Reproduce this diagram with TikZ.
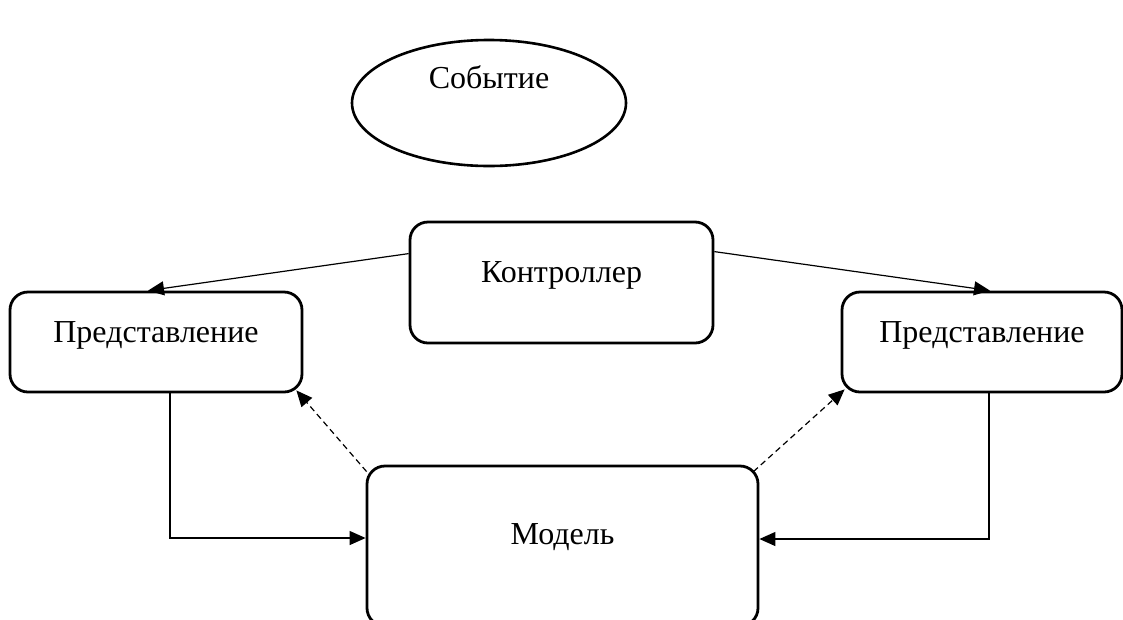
\documentclass[tikz,border=0pt]{standalone}
\usepackage{fontspec}
\setmainfont{Liberation Serif}
\usetikzlibrary{arrows.meta,graphs,shapes.geometric,calc}

\tikzset{
  box/.style={draw, line width=2.8pt, rounded corners=18pt, text height=18pt, text depth=18pt, inner sep=0pt},
  arr/.style={line width=1.2pt, -{Triangle[length=16pt,width=14pt]}},
  dsh/.style={arr, dash pattern=on 6pt off 4pt},
}

\begin{document}
\begin{tikzpicture}[x=1pt, y=-1pt, font=\fontsize{32}{38}\selectfont]
  \useasboundingbox (0,0) rectangle (1123,619);
  \node[draw, ellipse, line width=2.6pt, minimum width=274pt, minimum height=126pt,
        text height=10pt, text depth=40pt, inner sep=0pt] (ev) at (489,103) {Событие};
  \node[box, minimum width=303pt, minimum height=121pt] (ctrl) at (561.5,282.5) {Контроллер};
  \node[box, minimum width=292pt, minimum height=100pt] (viewL) at (156,342) {Представление};
  \node[box, minimum width=280pt, minimum height=100pt] (viewR) at (982,342) {Представление};
  \node[box, minimum width=391pt, minimum height=160pt, text height=16pt, text depth=20pt] (model) at (562.5,546) {Модель};
  % end points
  \coordinate (cl) at ($(ctrl.north west)+(0,33)$);
  \coordinate (cr) at ($(ctrl.north east)+(0,31)$);
  \coordinate (vl) at ($(viewL.north)+(-8,0)$);
  \coordinate (vr) at ($(viewR.north)+(8,0)$);
  \coordinate (ml) at ($(model.north west)+(1,7)$);
  \coordinate (mr) at ($(model.north east)+(-6,7)$);
  \coordinate (dl) at ($(viewL.south east)+(-7,-3)$);
  \coordinate (dr) at ($(viewR.south west)+(4,-4)$);
  \graph[use existing nodes, edges={arr}] {
    cl -> vl;
    cr -> vr;
    ml ->[dsh] dl;
    mr ->[dsh] dr;
  };
  \draw[arr] ($(viewL.south)+(14,0)$) |- ($(model.west)+(0,-8)$);
  \draw[arr] ($(viewR.south)+(7,0)$) |- ($(model.east)+(0,-7)$);
\end{tikzpicture}
\end{document}
